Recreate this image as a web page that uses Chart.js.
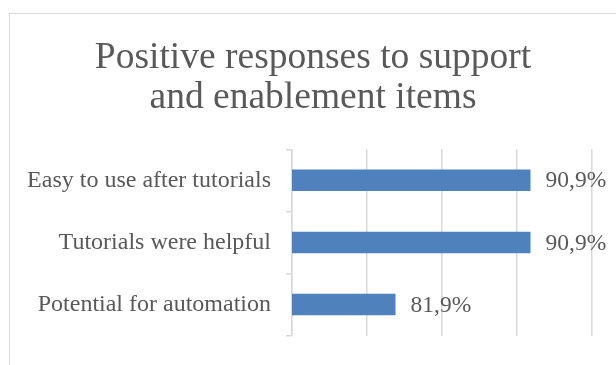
<!DOCTYPE html>
<html>
<head>
<meta charset="utf-8">
<script src="https://cdn.jsdelivr.net/npm/chart.js@4"></script>
<style>
  html, body { margin: 0; padding: 0; background: #fff; overflow: hidden; }
  #frame {
    position: absolute; left: 9px; top: 13px;
    width: 640px; height: 400px;
    border: 1px solid #d9d9d9; background: #fff;
  }
  #wrap { position: absolute; left: 0; top: 0; width: 606px; height: 351px; }
  #probe { position: absolute; left: -999px; font-family: 'Liberation Serif', serif; }
</style>
</head>
<body>
<span id="probe">Positive 90,9%</span>
<div id="frame">
  <div id="wrap"><canvas id="graphique"></canvas></div>
</div>
<script>
const titleLines = ["Positive responses to support", "and enablement items"];
const categories = ["Easy to use after tutorials", "Tutorials were helpful", "Potential for automation"];
const positiveShare = [90.9, 90.9, 81.9];
const axisMin = 75;
const axisMax = 95;
const axisStep = 5;

const grey = "#595959";
const lineGrey = "#d9d9d9";
const serif = "'Liberation Serif', serif";

// étiquettes de valeur au bout des barres (format 90,9%)
const valueLabels = {
    id: "valueLabels",
    afterLayout(chart) {
        // laisser déborder les libellés longs à gauche (pas de rognage)
        chart.scales.y.left = 0;
    },
    afterDatasetsDraw(chart) {
        const ctx = chart.ctx;
        const meta = chart.getDatasetMeta(0);
        ctx.save();
        ctx.font = "23.5px " + serif;
        ctx.fillStyle = grey;
        ctx.textAlign = "left";
        ctx.textBaseline = "middle";
        meta.data.forEach((bar, i) => {
            const txt = positiveShare[i].toFixed(1).replace(".", ",") + "%";
            ctx.fillText(txt, bar.x + 15, bar.y + 1);
        });
        ctx.restore();
    }
};

function draw() {
    const ctx = document.getElementById("graphique").getContext("2d");
    new Chart(ctx, {
        type: "bar",
        data: {
            labels: categories,
            datasets: [{
                data: positiveShare,
                backgroundColor: "#4f81bd",
                borderWidth: 0,
                barPercentage: 0.345,
                categoryPercentage: 1
            }]
        },
        options: {
            indexAxis: "y",
            responsive: true,
            maintainAspectRatio: false,
            animation: false,
            layout: { padding: { left: 24, right: 24, top: 0, bottom: 0 } },
            plugins: {
                legend: { display: false },
                tooltip: { enabled: false },
                title: {
                    display: true,
                    text: titleLines,
                    color: grey,
                    font: { family: serif, size: 37.5, weight: "normal", lineHeight: 1.07 },
                    padding: { top: 24, bottom: 31 }
                }
            },
            scales: {
                x: {
                    min: axisMin,
                    max: axisMax,
                    ticks: { display: false, stepSize: axisStep },
                    grid: { color: lineGrey, lineWidth: 1.5, drawTicks: false },
                    border: { display: false },
                    afterFit(scale) { scale.height = 24; }
                },
                y: {
                    ticks: {
                        color: grey,
                        padding: 15,
                        font: { family: serif, size: 24 }
                    },
                    grid: {
                        offset: true,
                        drawOnChartArea: false,
                        drawTicks: true,
                        tickLength: 6,
                        color: lineGrey,
                        lineWidth: 1.5
                    },
                    border: { display: true, color: lineGrey, width: 1.5 },
                    afterFit(scale) { scale.width = 258; }
                }
            }
        },
        plugins: [valueLabels]
    });
}

document.fonts.load("37px 'Liberation Serif'").then(draw, draw);
</script>
</body>
</html>
